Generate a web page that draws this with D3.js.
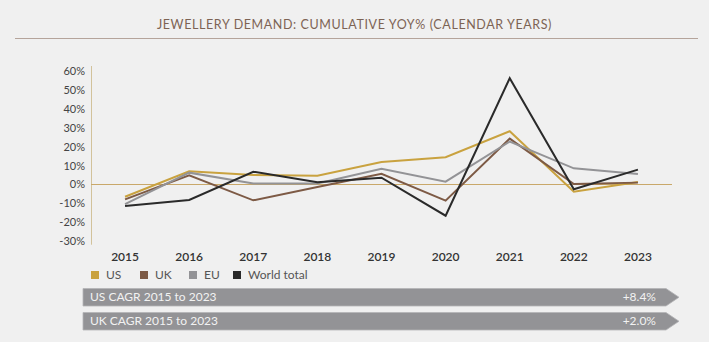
<!DOCTYPE html>
<html>
<head>
<meta charset="utf-8">
<script src="https://cdn.jsdelivr.net/npm/d3@7"></script>
<style>
  html, body { margin: 0; padding: 0; background: #f0f0f0; }
  svg { display: block; font-family: Lato, "Open Sans", sans-serif; }
</style>
</head>
<body>
<div id="chart"></div>
<script>
// data
const years = ['2015', '2016', '2017', '2018', '2019', '2020', '2021', '2022', '2023'];
const usValues = [-6.5, 7.0, 5.0, 4.7, 12.0, 14.5, 28.3, -3.8, 1.3];
const ukValues = [-7.9, 4.9, -8.4, -1.3, 5.7, -8.6, 24.4, 0.3, 1.0];
const euValues = [-10.4, 6.3, 0.6, 0.6, 8.4, 1.5, 22.8, 8.6, 5.6];
const worldValues = [-11.4, -8.2, 6.8, 1.2, 3.6, -16.6, 56.5, -2.5, 7.9];
const yTicks = [60, 50, 40, 30, 20, 10, 0, -10, -20, -30];

const seriesNames = ['US', 'UK', 'EU', 'World total'];
const seriesColors = ['#c9a23f', '#7d5a45', '#939396', '#2a2a2a'];

const cagrLabels = ['US CAGR 2015 to 2023', 'UK CAGR 2015 to 2023'];
const cagrValues = ['+8.4%', '+2.0%'];

const width = 709, height = 342;

const svg = d3.select('#chart').append('svg')
  .attr('width', width)
  .attr('height', height);

svg.append('rect').attr('width', width).attr('height', height).attr('fill', '#f0f0f0');

// --- Title ---
svg.append('text')
  .attr('x', width / 2)
  .attr('y', 29)
  .attr('text-anchor', 'middle')
  .attr('font-size', 12.5)
  .attr('letter-spacing', 0.6)
  .attr('fill', '#7d6354')
  .text('JEWELLERY DEMAND: CUMULATIVE YOY% (CALENDAR YEARS)');

svg.append('line')
  .attr('x1', 15).attr('x2', 698)
  .attr('y1', 38.5).attr('y2', 38.5)
  .attr('stroke', '#b5a49b')
  .attr('stroke-width', 1);

// --- Scales ---
const x = d3.scalePoint().domain(years).range([93, 670]).padding(0.5);
const y = d3.scaleLinear().domain([-32, 63]).range([244.7, 66]);

// y axis line
svg.append('line')
  .attr('x1', 91.5).attr('x2', 91.5)
  .attr('y1', y(63)).attr('y2', y(-32))
  .attr('stroke', '#d2c29b')
  .attr('stroke-width', 1);

// y tick labels
svg.append('g').selectAll('text')
  .data(yTicks)
  .join('text')
  .attr('x', 85)
  .attr('y', d => y(d))
  .attr('dy', '0.35em')
  .attr('text-anchor', 'end')
  .attr('font-size', 11)
  .attr('fill', '#444')
  .text(d => d + '%');

// zero line
svg.append('line')
  .attr('x1', 91).attr('x2', 672)
  .attr('y1', y(0)).attr('y2', y(0))
  .attr('stroke', '#c9a86a')
  .attr('stroke-width', 1);

// x tick labels
svg.append('g').selectAll('text')
  .data(years)
  .join('text')
  .attr('x', d => x(d))
  .attr('y', 257)
  .attr('dy', '0.35em')
  .attr('text-anchor', 'middle')
  .attr('font-size', 12)
  .attr('font-weight', 600)
  .attr('fill', '#333')
  .text(d => d);

// --- Lines ---
const allSeries = [usValues, ukValues, euValues, worldValues];
const line = d3.line()
  .x((d, i) => x(years[i]))
  .y(d => y(d));

allSeries.forEach((vals, i) => {
  svg.append('path')
    .datum(vals)
    .attr('d', line)
    .attr('fill', 'none')
    .attr('stroke', seriesColors[i])
    .attr('stroke-width', 2)
    .attr('stroke-linejoin', 'miter');
});

// --- Legend ---
const legendX = [91, 140, 189, 233];
const legend = svg.append('g').selectAll('g')
  .data(seriesNames)
  .join('g')
  .attr('transform', (d, i) => `translate(${legendX[i]},271)`);

legend.append('rect')
  .attr('width', 8).attr('height', 8)
  .attr('fill', (d, i) => seriesColors[i]);

legend.append('text')
  .attr('x', 15)
  .attr('y', 4)
  .attr('dy', '0.35em')
  .attr('font-size', 12)
  .attr('fill', '#555')
  .text(d => d);

// --- CAGR banners ---
const bannerTop = [288.5, 312.5];
const bannerH = 17.5;
const bx0 = 83, bx1 = 666, tip = 679;

cagrLabels.forEach((label, i) => {
  const t = bannerTop[i];
  svg.append('path')
    .attr('d', `M${bx0},${t}H${bx1}L${tip},${t + bannerH / 2}L${bx1},${t + bannerH}H${bx0}Z`)
    .attr('fill', '#939396')
    .attr('stroke', '#b4b4b6')
    .attr('stroke-width', 0.8);

  svg.append('text')
    .attr('x', bx0 + 7)
    .attr('y', t + bannerH / 2)
    .attr('dy', '0.35em')
    .attr('font-size', 12)
    .attr('fill', '#f2f2f2')
    .text(label);

  svg.append('text')
    .attr('x', 656)
    .attr('y', t + bannerH / 2)
    .attr('dy', '0.35em')
    .attr('text-anchor', 'end')
    .attr('font-size', 12)
    .attr('fill', '#f2f2f2')
    .text(cagrValues[i]);
});
</script>
</body>
</html>
